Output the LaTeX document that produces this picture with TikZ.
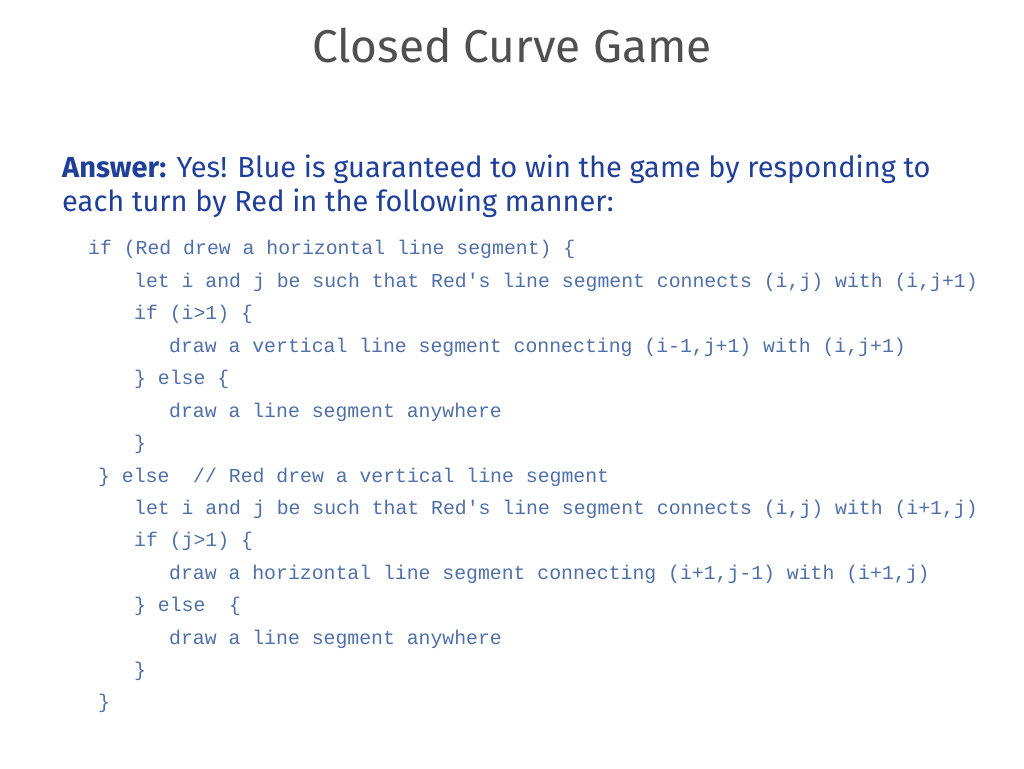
\documentclass[tikz,border=0pt]{standalone}
\usepackage{fontspec}
\setmainfont{Fira Sans}
\setmonofont{Liberation Mono}
\definecolor{titlegray}{HTML}{505050}
\definecolor{answerblue}{HTML}{1F3F99}
\definecolor{codeblue}{HTML}{4F6FA8}
\tikzset{
  codeline/.style={anchor=base west,inner sep=0pt,text=codeblue,font=\ttfamily\fontsize{19.8}{20}\selectfont},
  prose/.style={anchor=base west,inner sep=0pt,text=answerblue,font=\fontsize{29}{30}\selectfont}
}
\begin{document}
\begin{tikzpicture}[x=1pt,y=-1pt]
\useasboundingbox (0,0) rectangle (1024,768);
\node[anchor=base,text=titlegray,font=\fontsize{46}{50}\selectfont] (title) at (512,63) {Closed Curve Game};
\node[prose] (ans1) at (62,177) {\textbf{Answer:} Yes! Blue is guaranteed to win the game by responding to};
\node[prose] (ans2) at (62,211) {each turn by Red in the following manner:};
% code lines
\node[codeline] (c1) at (88,254) {if (Red drew a horizontal line segment) \{};
\node[codeline] (c2) at (134,287) {let i and j be such that Red's line segment connects (i,j) with (i,j+1)};
\node[codeline] (c3) at (134,319) {if (i>1) \{};
\node[codeline] (c4) at (169,352) {draw a vertical line segment connecting (i-1,j+1) with (i,j+1)};
\node[codeline] (c5) at (134,384) {\} else \{};
\node[codeline] (c6) at (169,417) {draw a line segment anywhere};
\node[codeline] (c7) at (134,449) {\}};
\node[codeline] (c8) at (98,482) {\} else\ \ // Red drew a vertical line segment};
\node[codeline] (c9) at (134,514) {let i and j be such that Red's line segment connects (i,j) with (i+1,j)};
\node[codeline] (c10) at (134,546) {if (j>1) \{};
\node[codeline] (c11) at (169,579) {draw a horizontal line segment connecting (i+1,j-1) with (i+1,j)};
\node[codeline] (c12) at (134,611) {\} else\ \ \{};
\node[codeline] (c13) at (169,644) {draw a line segment anywhere};
\node[codeline] (c14) at (134,676) {\}};
\node[codeline] (c15) at (98,708) {\}};
\end{tikzpicture}
\end{document}
